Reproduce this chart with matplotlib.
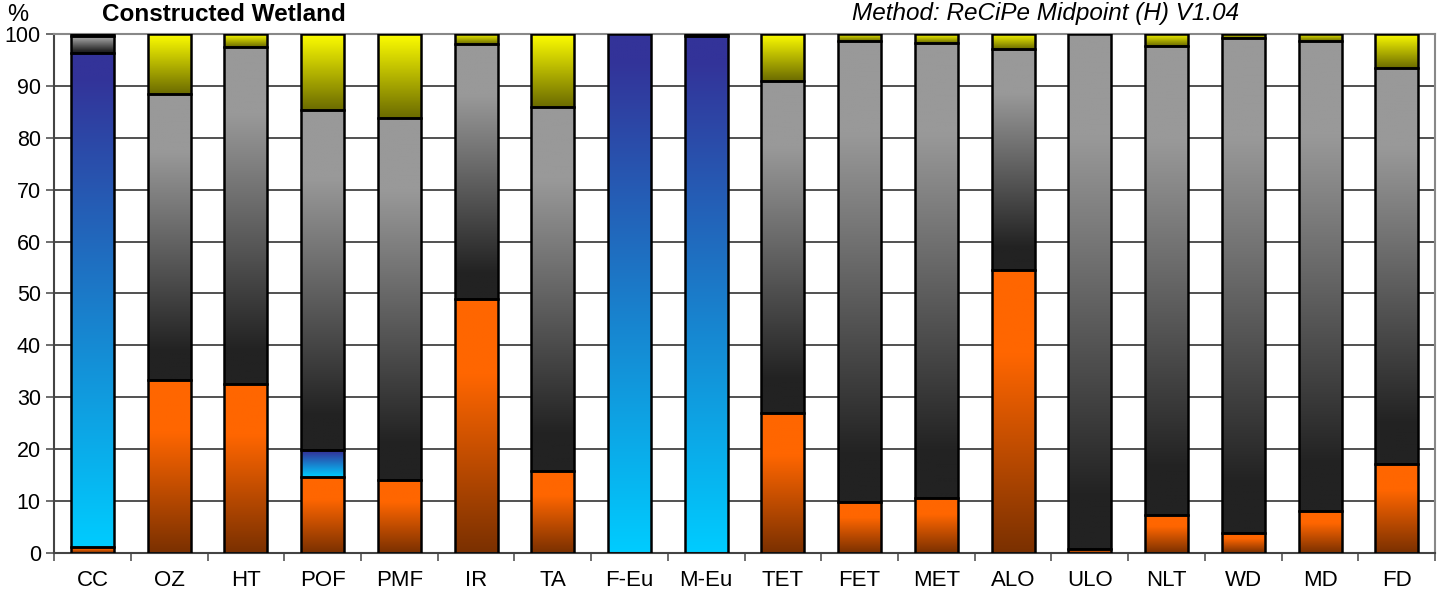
import matplotlib.pyplot as plt
import matplotlib.patches as mpatches
import numpy as np

plt.rcParams['font.family'] = ['Liberation Sans', 'DejaVu Sans']

categories = ["CC", "OZ", "HT", "POF", "PMF", "IR", "TA", "F-Eu", "M-Eu", "TET",
              "FET", "MET", "ALO", "ULO", "NLT", "WD", "MD", "FD"]
orange = [1.1, 33.3, 32.5, 14.7, 14.0, 49.0, 15.7, 0.0, 0.0, 26.9,
          9.8, 10.5, 54.6, 0.7, 7.3, 3.9, 8.1, 17.2]
blue = [95.2, 0.0, 0.0, 5.1, 0.0, 0.0, 0.0, 100.0, 99.7, 0.0,
        0.0, 0.0, 0.0, 0.0, 0.0, 0.0, 0.0, 0.0]
gray = [3.3, 55.1, 65.0, 65.5, 69.8, 49.0, 70.2, 0.0, 0.3, 64.0,
        88.8, 87.8, 42.5, 99.3, 90.3, 95.3, 90.5, 76.2]
yellow = [0.4, 11.6, 2.5, 14.7, 16.2, 2.0, 14.1, 0.0, 0.0, 9.1,
          1.4, 1.7, 2.9, 0.0, 2.4, 0.8, 1.4, 6.6]

# (bottom colour, top colour, ramp start, ramp end)
styles = [
    ("#7a3000", "#ff6600", 0.0, 0.7),
    ("#00ccff", "#333399", 0.0, 0.95),
    ("#222222", "#999999", 0.1, 0.8),
    ("#6b6b00", "#ffff00", 0.0, 1.0),
]
series = [orange, blue, gray, yellow]


def to_rgb(h):
    h = h.lstrip("#")
    return np.array([int(h[i:i + 2], 16) / 255 for i in (0, 2, 4)])


fig, ax = plt.subplots(figsize=(14.38, 5.93), dpi=100)
fig.subplots_adjust(left=0.0376, right=0.998, bottom=0.0675, top=0.9427)

x = np.arange(len(categories))
width = 0.56
bottom = np.zeros(len(categories))
for vals, (c0, c1, t0, t1) in zip(series, styles):
    vals = np.array(vals)
    c0, c1 = to_rgb(c0), to_rgb(c1)
    t = np.linspace(0, 1, 200)
    s = np.clip((t - t0) / (t1 - t0), 0, 1)
    grad = (c0[None, :] * (1 - s[:, None]) + c1[None, :] * s[:, None])[:, None, :]
    for i in range(len(categories)):
        if vals[i] <= 0:
            continue
        x0, x1 = x[i] - width / 2, x[i] + width / 2
        y0, y1 = bottom[i], bottom[i] + vals[i]
        ax.imshow(grad, extent=(x0, x1, y0, y1), origin="lower",
                  aspect="auto", zorder=2, interpolation="bilinear")
        ax.add_patch(mpatches.Rectangle((x0, y0), width, vals[i], fill=False,
                                        edgecolor="black", linewidth=1.8, zorder=3))
    bottom += vals

ax.set_xlim(-0.5, len(categories) - 0.5)
ax.set_ylim(0, 100)
ax.set_yticks(np.arange(0, 101, 10))
ax.yaxis.grid(True, color="#333333", linewidth=1.2, zorder=0)
ax.set_axisbelow(True)

ax.set_xticks(x)
ax.set_xticklabels(categories, fontsize=16)
ax.set_xticks(np.arange(-0.5, len(categories), 1), minor=True)
ax.tick_params(axis="x", which="major", length=0, pad=12)
ax.tick_params(axis="x", which="minor", length=6, color="#555555", width=1.2)
ax.tick_params(axis="y", length=6, color="#555555", width=1.2, labelsize=15.5)

for side in ["top", "right"]:
    ax.spines[side].set_color("#888888")
    ax.spines[side].set_linewidth(1.5)
ax.spines["left"].set_color("#444444")
ax.spines["bottom"].set_color("#444444")
ax.spines["left"].set_linewidth(1.5)
ax.spines["bottom"].set_linewidth(1.5)

fig.text(0.005, 0.975, "%", fontsize=17, va="center", ha="left")
fig.text(0.071, 0.975, "Constructed Wetland", fontsize=17.5, fontweight="bold",
         va="center", ha="left")
fig.text(0.862, 0.978, "Method: ReCiPe Midpoint (H) V1.04", fontsize=17.5,
         style="italic", va="center", ha="right")

fig.savefig("out.png", dpi=100)
